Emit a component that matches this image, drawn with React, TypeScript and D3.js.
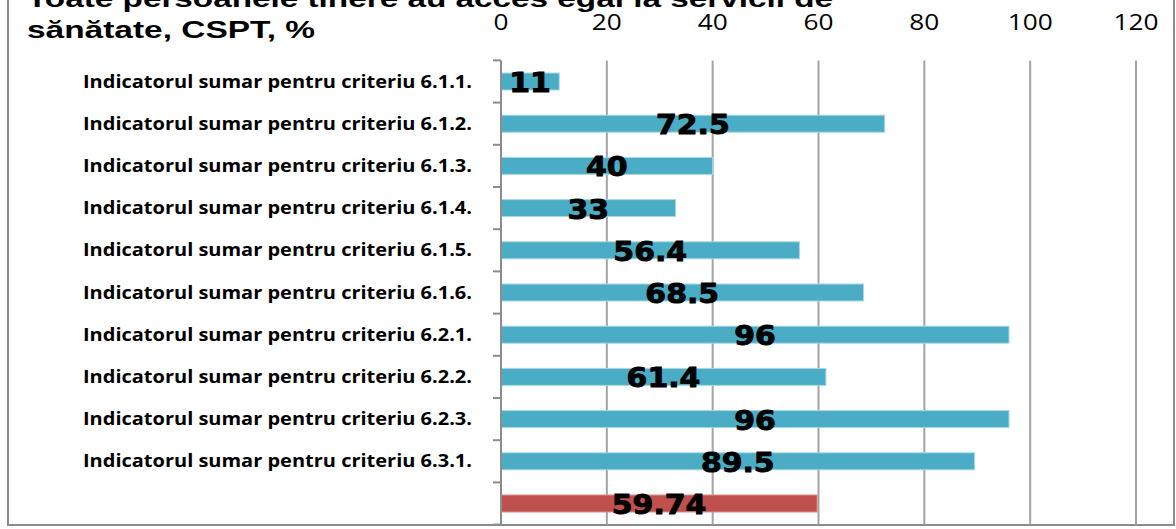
import React from "react";
import * as d3 from "d3";

const titleLines = [
  "Toate persoanele tinere au acces egal la servicii de",
  "sănătate, CSPT, %",
];
const categories = [
  "Indicatorul sumar pentru criteriu 6.1.1.",
  "Indicatorul sumar pentru criteriu 6.1.2.",
  "Indicatorul sumar pentru criteriu 6.1.3.",
  "Indicatorul sumar pentru criteriu 6.1.4.",
  "Indicatorul sumar pentru criteriu 6.1.5.",
  "Indicatorul sumar pentru criteriu 6.1.6.",
  "Indicatorul sumar pentru criteriu 6.2.1.",
  "Indicatorul sumar pentru criteriu 6.2.2.",
  "Indicatorul sumar pentru criteriu 6.2.3.",
  "Indicatorul sumar pentru criteriu 6.3.1.",
  "",
];
const values = [11, 72.5, 40, 33, 56.4, 68.5, 96, 61.4, 96, 89.5, 59.74];
const valueLabels = ["11", "72.5", "40", "33", "56.4", "68.5", "96", "61.4", "96", "89.5", "59.74"];
const xTicks = [0, 20, 40, 60, 80, 100, 120];

const W = 1176;
const H = 529;
const plot = { left: 501, right: 1136, top: 60.4, bottom: 524.6 };

export default function App() {
  const x = d3.scaleLinear().domain([0, 120]).range([plot.left, plot.right]);
  const y = d3
    .scaleBand<number>()
    .domain(d3.range(categories.length))
    .range([plot.top, plot.bottom])
    .paddingInner(0)
    .paddingOuter(0);
  const barH = 17;
  const boundaries = d3.range(categories.length + 1).map((i) => plot.top + i * y.step());

  return (
    <svg
      width={W}
      height={H}
      style={{ position: "absolute", left: 0, top: 0, background: "#fff" }}
    >
      {/* outer frame */}
      <rect x={8} y={-20} width={1166} height={545} fill="#fff" stroke="#8c8c8c" strokeWidth={2} />

      {/* title */}
      {titleLines.map((t, i) => (
        <text
          key={i}
          x={27}
          y={7 + i * 30.7}
          fontFamily="'Liberation Sans', Arial, sans-serif"
          fontWeight="bold"
          fontSize={23.5}
          textLength={i === 0 ? 806 : 288}
          lengthAdjust="spacingAndGlyphs"
          fill="#000"
        >
          {t}
        </text>
      ))}

      {/* gridlines */}
      {xTicks.slice(1).map((t) => (
        <line key={t} x1={x(t)} x2={x(t)} y1={plot.top} y2={plot.bottom} stroke="#a3a3a3" strokeWidth={2} />
      ))}

      {/* tick labels */}
      {xTicks.map((t) => (
        <g key={t} transform={`translate(${x(t)},30) scale(1.25,1)`}>
          <text textAnchor="middle" fontFamily="'Open Sans', sans-serif" fontSize={21} fill="#000">
            {t}
          </text>
        </g>
      ))}

      {/* bars */}
      {values.map((v, i) => {
        const cy = (y(i) as number) + y.bandwidth() / 2;
        const isTotal = i === values.length - 1;
        return (
          <rect
            key={i}
            x={x(0)}
            y={cy - barH / 2}
            width={x(v) - x(0)}
            height={barH}
            fill={isTotal ? "#C0504D" : "#4BACC6"}
            stroke={isTotal ? "#d98e8c" : "#a9d7e4"}
            strokeWidth={1}
          />
        );
      })}

      {/* axis line and ticks */}
      <line x1={plot.left} x2={plot.left} y1={plot.top} y2={plot.bottom} stroke="#8c8c8c" strokeWidth={2} />
      {boundaries.map((b, i) => (
        <line key={i} x1={493} x2={plot.left} y1={b} y2={b} stroke="#8c8c8c" strokeWidth={2} />
      ))}

      {/* category labels */}
      {categories.map((c, i) => {
        if (!c) return null;
        const cy = (y(i) as number) + y.bandwidth() / 2;
        return (
          <text
            key={i}
            x={472}
            y={cy + 6}
            textAnchor="end"
            fontFamily="'Open Sans', sans-serif"
            fontWeight="bold"
            fontSize={17.5}
            textLength={389}
            lengthAdjust="spacingAndGlyphs"
            fill="#000"
          >
            {c}
          </text>
        );
      })}

      {/* value labels */}
      {values.map((v, i) => {
        const cy = (y(i) as number) + y.bandwidth() / 2;
        const cx = (x(0) + x(v)) / 2;
        return (
          <g key={i} transform={`translate(${cx},${cy + 10.5}) scale(1.15,1)`}>
            <text
              textAnchor="middle"
              fontFamily="'DejaVu Sans', Verdana, sans-serif"
              fontWeight="bold"
              fontSize={26}
              fill="#000"
              stroke="#000"
              strokeWidth={0.9}
            >
              {valueLabels[i]}
            </text>
          </g>
        );
      })}
    </svg>
  );
}
